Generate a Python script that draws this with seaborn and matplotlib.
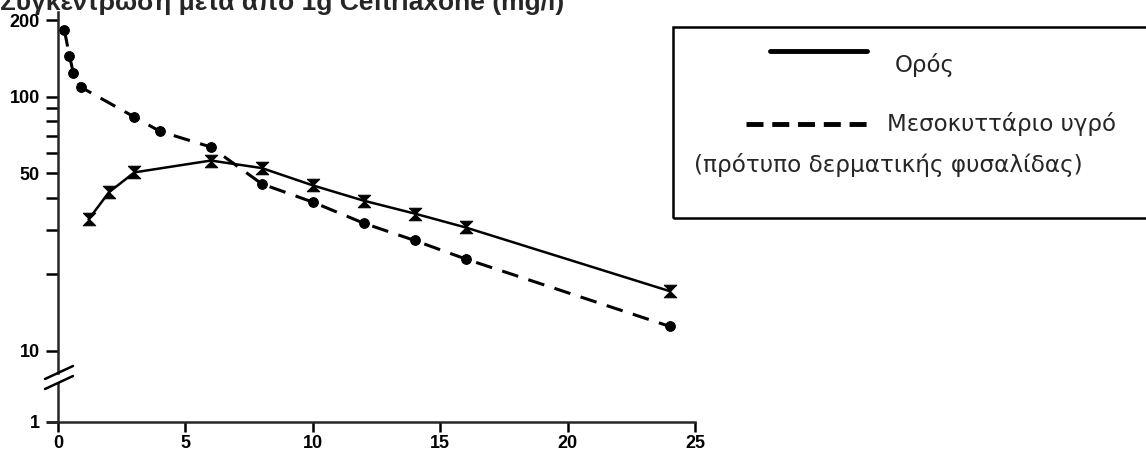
import seaborn as sns
import matplotlib.pyplot as plt
import matplotlib.patches as patches
from matplotlib.lines import Line2D
from matplotlib.ticker import NullFormatter

# Ορός (serum), hourglass markers, solid line
t_serum = [1.2, 2, 3, 6, 8, 10, 12, 14, 16, 24]
serum = [32.9, 42.1, 50.4, 56.1, 52.4, 44.8, 39.0, 34.7, 30.6, 17.2]

# Μεσοκυττάριο υγρό (blister fluid), circle markers, dashed line
t_fluid = [0.25, 0.45, 0.6, 0.9, 3, 4, 6, 8, 10, 12, 14, 16, 24]
fluid = [183, 144.5, 124.5, 109, 83.2, 73.1, 63.4, 45.4, 38.5, 31.8, 27.2, 23.0, 12.5]

x_ticks = [0, 5, 10, 15, 20, 25]
y_major = [10, 50, 100, 200]
y_minor = [20, 30, 40, 60, 70, 80, 90]

title = "Συγκέντρωση μετά από 1g Ceftriaxone (mg/l)"
label_serum = "Ορός"
label_fluid = "Μεσοκυττάριο υγρό"
label_fluid2 = "(πρότυπο δερματικής φυσαλίδας)"

W, H = 1146, 453
sns.set_style("ticks")
plt.rcParams["font.family"] = ["Liberation Sans", "DejaVu Sans"]


def fx(x):
    return x / W


def fy(y):
    return 1 - y / H


fig = plt.figure(figsize=(W / 100, H / 100), dpi=100)
left, right = fx(47.8), fx(695)
ax = fig.add_axes([left, fy(373), right - left, fy(12) - fy(373)])
axb = fig.add_axes([left, fy(422), right - left, fy(383) - fy(422)])

hourglass = [(-1, 1), (1, 1), (-1, -1), (1, -1), (-1, 1)]
sns.lineplot(x=t_serum, y=serum, ax=ax, color="black", lw=1.8,
             marker=hourglass, markersize=9, markeredgecolor="black",
             markerfacecolor="black")
sns.lineplot(x=t_fluid, y=fluid, ax=ax, color="black", lw=2.2,
             linestyle=(0, (5.5, 3.5)), marker="o", markersize=7,
             markeredgecolor="black", markerfacecolor="black")

ax.set_yscale("log")
ax.set_ylim(8.19, 215.4)
ax.set_yticks(y_major)
ax.set_yticklabels([str(v) for v in y_major])
ax.set_yticks(y_minor, minor=True)
ax.yaxis.set_minor_formatter(NullFormatter())
ax.set_xlim(-0.4, 25)
ax.set_xticks([])

axb.set_xlim(-0.4, 25)
axb.set_ylim(1, 2)
axb.set_yticks([1])
axb.set_yticklabels(["1"])
axb.set_xticks(x_ticks)
axb.set_xticklabels([str(v) for v in x_ticks])

for a in (ax, axb):
    a.set_facecolor("none")
    a.spines["left"].set_position(("data", 0))
    a.spines["left"].set_linewidth(1.8)
    a.spines["bottom"].set_linewidth(1.8)
    a.spines["right"].set_visible(False)
    a.spines["top"].set_visible(False)
    a.tick_params(which="both", direction="out", length=9, width=1.8,
                  labelsize=13, pad=4, colors="black")
    for lab in a.get_xticklabels() + a.get_yticklabels():
        lab.set_fontweight("bold")
    a.set_xlabel("")
    a.set_ylabel("")
ax.spines["bottom"].set_visible(False)
axb.tick_params(axis="x", length=7, pad=2.5)

# axis break marks
for y0 in (379, 389):
    fig.add_artist(Line2D([fx(45), fx(73)], [fy(y0), fy(y0 - 13)],
                          color="black", lw=1.8, transform=fig.transFigure))

# title, clipped at the top like the scan
fig.text(fx(0), fy(10), title, fontsize=19, fontweight="bold",
         ha="left", va="baseline")

# legend box
fig.add_artist(patches.Rectangle((fx(673), fy(218)), fx(1160) - fx(673),
                                 fy(27) - fy(218), fill=False, lw=1.8,
                                 edgecolor="black", transform=fig.transFigure))
fig.add_artist(Line2D([fx(770), fx(867)], [fy(51), fy(51)], color="black",
                      lw=3.5, transform=fig.transFigure))
fig.add_artist(Line2D([fx(746), fx(867)], [fy(124), fy(124)], color="black",
                      lw=3.5, linestyle=(0, (3.5, 1.8)),
                      transform=fig.transFigure))
leg_font = ["DejaVu Sans"]
fig.text(fx(895), fy(65), label_serum, fontsize=16.5, family=leg_font,
         ha="left", va="center")
fig.text(fx(887), fy(124), label_fluid, fontsize=16.5, family=leg_font,
         ha="left", va="center")
fig.text(fx(694), fy(165), label_fluid2, fontsize=16.7, family=leg_font,
         ha="left", va="center")

fig.savefig("out.png", dpi=100)
